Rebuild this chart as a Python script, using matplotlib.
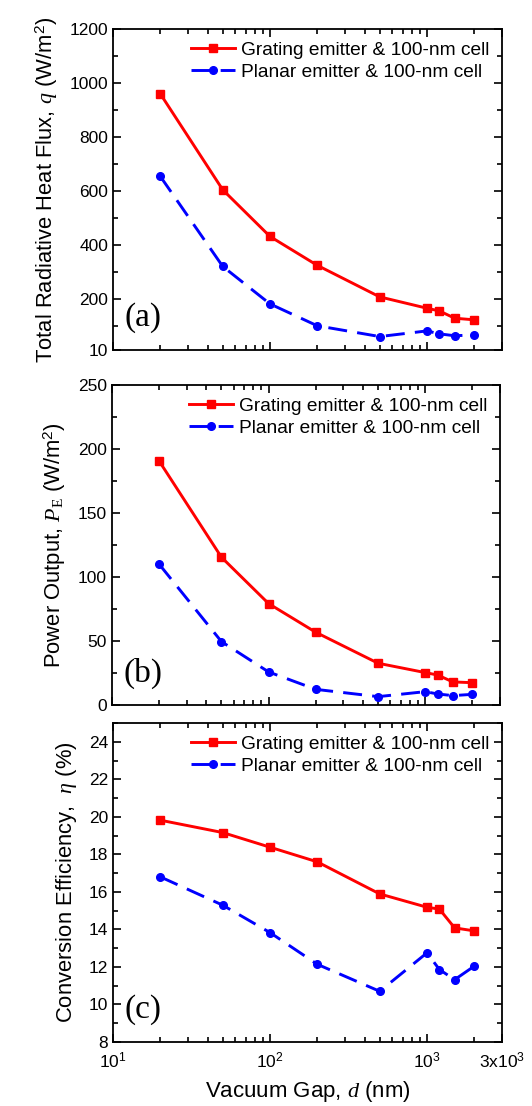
import numpy as np
import matplotlib
matplotlib.use("Agg")
import matplotlib.pyplot as plt
from matplotlib.ticker import MultipleLocator, LogLocator, NullFormatter, FixedLocator

# Donnees
d = [20, 50, 100, 200, 500, 1000, 1200, 1500, 2000]   # gap en nm

q_grating = [960, 604, 431, 324, 207, 165, 155, 128, 122]
q_planar = [654, 320, 181, 100, 60, 81, 70, 63, 66]

P_grating = [190.6, 115.4, 79.2, 56.8, 32.6, 25.3, 23.4, 18.0, 17.4]
P_planar = [110.0, 49.5, 25.8, 12.2, 6.5, 10.4, 8.6, 7.3, 8.3]

eta_grating = [19.82, 19.16, 18.38, 17.6, 15.89, 15.18, 15.08, 14.08, 13.92]
eta_planar = [16.8, 15.29, 13.83, 12.14, 10.7, 12.75, 11.86, 11.32, 12.04]

lab_g = "Grating emitter & 100-nm cell"
lab_p = "Planar emitter & 100-nm cell"

xticks = [10, 100, 1000, 3000]
xticklabels = [r"$\mathsf{10^{1}}$", r"$\mathsf{10^{2}}$", r"$\mathsf{10^{3}}$", r"$\mathsf{3x10^{3}}$"]

plt.rcParams["font.family"] = ["Liberation Sans", "DejaVu Sans"]
plt.rcParams["font.size"] = 12.5
plt.rcParams["mathtext.fontset"] = "custom"
plt.rcParams["mathtext.rm"] = "Liberation Serif"
plt.rcParams["mathtext.it"] = "Liberation Serif:italic"
plt.rcParams["mathtext.sf"] = "Liberation Sans"

fig = plt.figure(figsize=(5.32, 11.06), dpi=100)

ax_a = fig.add_axes([0.2124, 0.6835, 0.731, 0.2903])
ax_b = fig.add_axes([0.2105, 0.3626, 0.7293, 0.2893])
ax_c = fig.add_axes([0.2124, 0.0579, 0.731, 0.2884])


def trace(ax, yg, yp, ylim, yticks, ymin, ylabel, lettre):
    "trace les deux courbes sur un panneau"
    ax.plot(d, yg, "-", color="#ff0000", lw=2.1, marker="s", ms=5.5, label=lab_g)
    ax.plot(d, yp, color="#0000ff", lw=2.1, ls=(0, (6.5, 3.5)), marker="o", ms=5.5, label=lab_p)
    ax.set_xscale("log")
    ax.set_xlim(10, 3000)
    ax.set_ylim(ylim)
    ax.set_yticks(yticks)
    ax.yaxis.set_minor_locator(MultipleLocator(ymin))
    ax.xaxis.set_minor_locator(LogLocator(base=10, subs=np.arange(2, 10)))
    ax.xaxis.set_minor_formatter(NullFormatter())
    ax.set_xticks(xticks)
    ax.tick_params(which="both", direction="in", top=True, right=True, width=1.2)
    ax.tick_params(which="major", length=6)
    ax.tick_params(which="minor", length=3.5)
    ax.tick_params(axis="x", pad=6)
    for s in ax.spines.values():
        s.set_linewidth(1.3)
    ax.set_ylabel(ylabel, fontsize=15.8, labelpad=7)
    ax.text(0.03, 0.10, lettre, transform=ax.transAxes, ha="left", va="center",
            fontsize=24, family="Liberation Serif")
    ax.legend(loc="upper right", frameon=False, handlelength=2.3, handletextpad=0.3,
              labelspacing=0.25, borderaxespad=0.25, fontsize=13.8)


trace(ax_a, q_grating, q_planar, (10, 1200), [10, 200, 400, 600, 800, 1000, 1200], 100,
      r"Total Radiative Heat Flux, $q$ (W/m$^\mathsf{2}$)", "(a)")
ax_a.yaxis.set_minor_locator(FixedLocator([100, 300, 500, 700, 900, 1100]))
ax_a.set_xticklabels([])

trace(ax_b, P_grating, P_planar, (0, 250), [0, 50, 100, 150, 200, 250], 25,
      r"Power Output, $P_\mathrm{E}$ (W/m$^\mathsf{2}$)", "(b)")
ax_b.set_xticklabels([])

trace(ax_c, eta_grating, eta_planar, (8, 25), [8, 10, 12, 14, 16, 18, 20, 22, 24], 1,
      r"Conversion Efficiency,  $\eta$ (%)", "(c)")
ax_c.set_xticklabels(xticklabels)
ax_c.set_xlabel(r"Vacuum Gap, $d$ (nm)", fontsize=16, labelpad=6)

plt.savefig("out.png", dpi=100)
